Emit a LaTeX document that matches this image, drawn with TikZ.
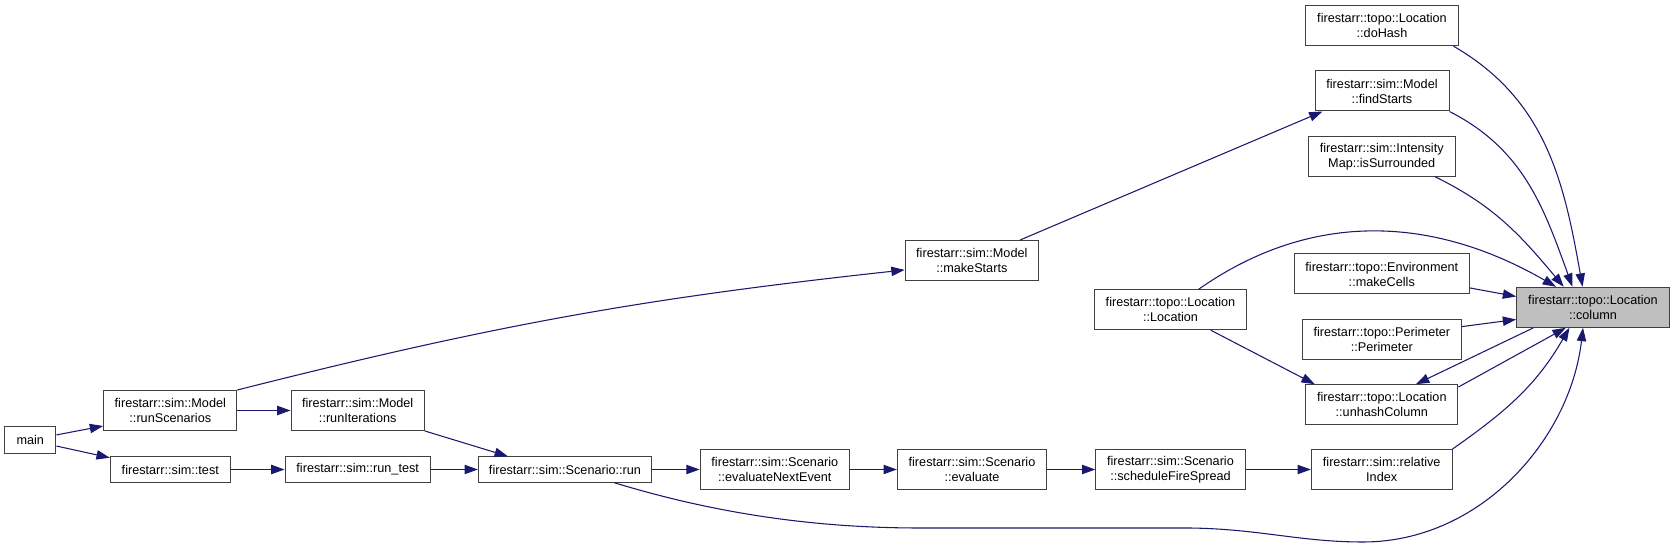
\documentclass[tikz,border=0pt]{standalone}
\usepackage{fontspec}
\setmainfont{Liberation Sans}
\usepackage{xcolor}
\definecolor{EdgeBlue}{HTML}{191970}
\definecolor{FrameGray}{HTML}{404040}
\definecolor{HiGray}{HTML}{BFBFBF}
\usepackage{tikz}
\usetikzlibrary{positioning,calc,arrows.meta}

\begin{document}
\begin{tikzpicture}[x=0.75pt,y=0.75pt,
  fn/.style={draw=FrameGray,fill=white,line width=0.75pt,inner sep=0pt,align=center,
             minimum height=30pt,font=\fontsize{9.5}{11.25}\selectfont},
  fnone/.style={fn,minimum height=19pt},
  call/.style={-{Triangle[length=10pt,width=7pt]},EdgeBlue,line width=0.8pt}]
\useasboundingbox (0,0) rectangle (1675,-548);
\node[fn,minimum width=114.5pt] (doHash) at (1382,-25.7) {firestarr::topo::Location\\::doHash};
\node[fn,minimum width=100.5pt] (findStarts) at (1382,-91) {firestarr::sim::Model\\::findStarts};
\node[fn,minimum width=110pt] (isSurrounded) at (1381.7,-156.3) {firestarr::sim::Intensity\\Map::isSurrounded};
\node[fn,minimum width=131.3pt] (makeCells) at (1381.8,-274) {firestarr::topo::Environment\\::makeCells};
\node[fn,fill=HiGray,minimum width=114.5pt] (column) at (1593,-307.3) {firestarr::topo::Location\\::column};
\node[fn,minimum width=119.3pt] (perimeter) at (1381.8,-339.3) {firestarr::topo::Perimeter\\::Perimeter};
\node[fn,minimum width=114.2pt] (unhashColumn) at (1381.8,-404.7) {firestarr::topo::Location\\::unhashColumn};
\node[fn,minimum width=105.5pt] (relativeIndex) at (1381.7,-469.5) {firestarr::sim::relative\\Index};
\node[fn,minimum width=100pt] (makeStarts) at (971.8,-260.5) {firestarr::sim::Model\\::makeStarts};
\node[fn,minimum width=114.2pt] (location) at (1170.5,-309.7) {firestarr::topo::Location\\::Location};
\node[fnone,minimum width=38.5pt,minimum height=20pt] (main) at (30.3,-440) {main};
\node[fn,minimum width=100pt] (runScenarios) at (170.3,-410.5) {firestarr::sim::Model\\::runScenarios};
\node[fn,minimum width=100pt] (runIterations) at (357.7,-410.5) {firestarr::sim::Model\\::runIterations};
\node[fnone,minimum width=90pt] (test) at (170.3,-469.5) {firestarr::sim::test};
\node[fnone,minimum width=109pt] (runTest) at (357.7,-469.5) {firestarr::sim::run\_test};
\node[fnone,minimum width=130pt] (run) at (565,-469.5) {firestarr::sim::Scenario::run};
\node[fn,minimum width=112pt] (evalNext) at (774.8,-469.5) {firestarr::sim::Scenario\\::evaluateNextEvent};
\node[fn,minimum width=112pt] (evaluate) at (972,-469.5) {firestarr::sim::Scenario\\::evaluate};
\node[fn,minimum width=112pt] (schedule) at (1170.5,-469.5) {firestarr::sim::Scenario\\::scheduleFireSpread};
\foreach \a/\b in {runScenarios/runIterations, test/runTest, runTest/run, run/evalNext,
                   evalNext/evaluate, evaluate/schedule, schedule/relativeIndex} {
  \draw[call] (\a.east) -- (\b.west);
}
\draw[call] (main.11) -- (runScenarios.-167);
\draw[call] (main.-13) -- (test.169);
\draw[call] (runScenarios.17) to[bend left=4] (makeStarts.188);
\draw[call] (makeStarts.23) -- (findStarts.-161);
\draw[call] (runIterations.south east) -- (run.167);
\draw[call] (location.-27) -- (unhashColumn.163);
\draw[call] (doHash.-16) to[out=-30,in=100] (column.117);
\draw[call] (findStarts.south east) to[out=-27,in=110] (column.135);
\draw[call] (isSurrounded.-21) to[out=-26,in=130] (column.145);
\draw[call] (location.36) to[out=35,in=150] (column.151);
\draw[call] (makeCells.-9) -- (column.172);
\draw[call] (perimeter.9) -- (column.-171);
\draw[call] (column.-161) -- (unhashColumn.31);
\draw[call] (unhashColumn.13) -- (column.-143);
\draw[call] (relativeIndex.north east) to[out=35,in=-120] (column.-139);
\draw[call] (run.-15) .. controls (720,-515) and (820,-528) .. (920,-528) -- (1190,-528)
  .. controls (1260,-529) and (1300,-542) .. (1363,-542)
  .. controls (1480,-542) and (1570,-440) .. (column.-116);
\end{tikzpicture}
\end{document}
